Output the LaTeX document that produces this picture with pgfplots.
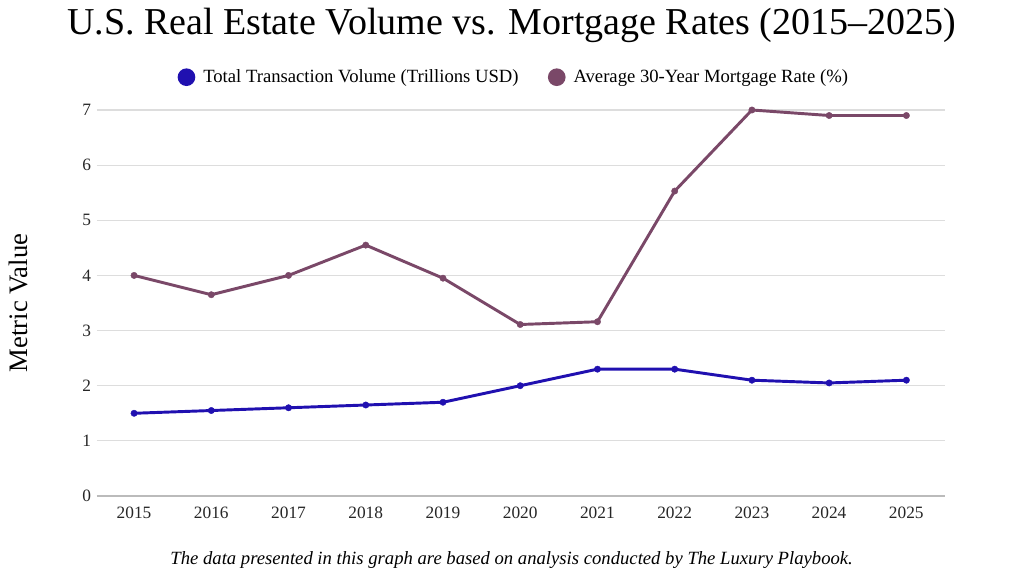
\documentclass[border=0pt]{standalone}
\usepackage{pgfplots}
\pgfplotsset{compat=1.18}
\usepackage{fontspec}
\setmainfont{Liberation Serif}
\usetikzlibrary{calc}
\definecolor{volblue}{HTML}{2010B0}
\definecolor{ratepurple}{HTML}{7A4868}
\definecolor{gridgray}{HTML}{DDDDDD}
\definecolor{axisgray}{HTML}{BBBBBB}
\begin{document}
\begin{tikzpicture}
\begin{axis}[
  name=ax,
  scale only axis,
  width=636pt, height=289.5pt,
  xmin=2014.52, xmax=2025.5,
  ymin=0, ymax=7,
  xtick={2015,...,2025},
  ytick={0,...,7},
  xticklabel style={/pgf/number format/1000 sep={}},
  /pgf/number format/assume math mode=true,
  tick style={draw=none},
  ymajorgrids,
  grid style={gridgray, line width=0.8pt},
  axis x line*=bottom,
  axis y line*=left,
  y axis line style={draw=none},
  x axis line style={axisgray, line width=1.2pt, -},
  ticklabel style={font=\fontsize{13}{14}\selectfont, text=black!85},
  xticklabel style={yshift=-5pt},
  yticklabel style={xshift=-1pt},
  clip=false,
  legend style={at={(0.492,1.085)}, anchor=center, draw=none, legend columns=2,
    font=\fontsize{14}{15}\selectfont, column sep=4pt,
    /tikz/every even column/.append style={column sep=20pt}},
  legend image code/.code={\fill[#1] (0,0) circle (5.5pt);},
]
\addplot[volblue, line width=2.2pt, mark=*, mark size=2.4pt, mark options={line width=0.3pt}]
 coordinates {(2015,1.5)(2016,1.55)(2017,1.6)(2018,1.65)(2019,1.7)(2020,2.0)(2021,2.3)(2022,2.3)(2023,2.1)(2024,2.05)(2025,2.1)};
\addlegendentry{Total Transaction Volume (Trillions USD)}
\addplot[ratepurple, line width=2.2pt, mark=*, mark size=2.4pt, mark options={line width=0.3pt}]
 coordinates {(2015,4.0)(2016,3.65)(2017,4.0)(2018,4.55)(2019,3.95)(2020,3.11)(2021,3.16)(2022,5.53)(2023,7.0)(2024,6.9)(2025,6.9)};
\addlegendentry{Average 30-Year Mortgage Rate (\%)}
\end{axis}
\node at ($(ax.north)+(-7pt,63.75pt)$) {\fontsize{28.5}{30}\selectfont U.S. Real Estate Volume vs. Mortgage Rates (2015–2025)};
\node[rotate=90] at ($(ax.west)+(-59pt,0)$) {\fontsize{20}{22}\selectfont Metric Value};
\node at ($(ax.south)+(-7pt,-48pt)$) {\fontsize{14}{15}\selectfont\itshape The data presented in this graph are based on analysis conducted by The Luxury Playbook.};
\path[use as bounding box] ($(ax.south west)+(-72.75pt,-60pt)$) rectangle ($(ax.north east)+(59.25pt,82.5pt)$);
\end{tikzpicture}
\end{document}
